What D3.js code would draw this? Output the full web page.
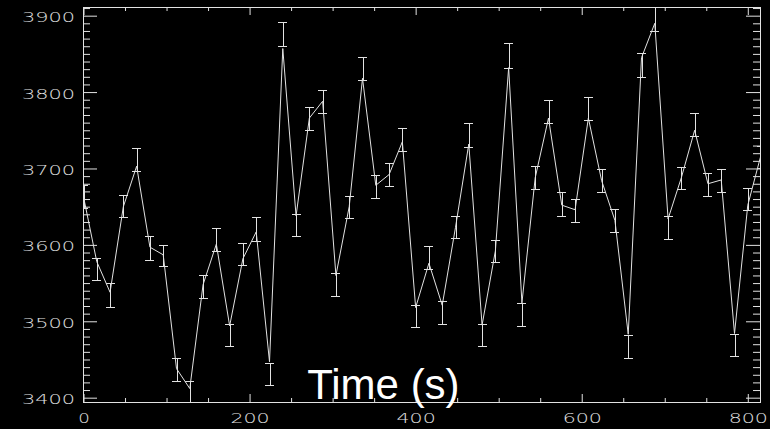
<!DOCTYPE html>
<html>
<head>
<meta charset="utf-8">
<script src="https://cdn.jsdelivr.net/npm/d3@7"></script>
<style>
  html, body { margin: 0; padding: 0; background: #000; }
  svg { display: block; }
</style>
</head>
<body>
<div id="chart"></div>
<script>
// sample times (s) and measured counts, with the low / high ends of each error bar
const times = [0, 16, 32, 48, 64, 80, 96, 112, 128, 144, 160, 176, 192, 208, 224, 240, 256, 272, 288, 304,
  320, 336, 352, 368, 384, 400, 416, 432, 448, 464, 480, 496, 512, 528, 544, 560, 576, 592, 608, 624,
  640, 656, 672, 688, 704, 720, 736, 752, 768, 784, 800, 816];
const counts = [3663, 3578, 3538, 3650, 3703, 3597, 3587, 3438, 3412, 3548, 3601, 3494, 3582, 3617, 3447, 3857, 3638, 3766, 3788, 3560,
  3650, 3818, 3678, 3692, 3735, 3518, 3576, 3521, 3623, 3732, 3495, 3592, 3832, 3524, 3688, 3766, 3652, 3646, 3766, 3684,
  3632, 3483, 3845, 3890, 3634, 3688, 3750, 3680, 3685, 3484, 3652, 3718];
const barLow = [3648, 3554, 3519, 3636, 3697, 3580, 3572, 3422, 3392, 3530, 3592, 3468, 3574, 3605, 3416, 3860, 3612, 3750, 3772, 3533,
  3635, 3816, 3661, 3677, 3723, 3492, 3568, 3497, 3609, 3728, 3467, 3577, 3832, 3494, 3673, 3760, 3638, 3630, 3763, 3669,
  3617, 3452, 3820, 3880, 3608, 3673, 3742, 3664, 3669, 3455, 3646, 3700];
const barHigh = [3678, 3583, 3550, 3665, 3727, 3612, 3600, 3452, 3422, 3560, 3622, 3497, 3603, 3636, 3446, 3892, 3641, 3781, 3803, 3563,
  3664, 3846, 3691, 3707, 3753, 3521, 3598, 3527, 3638, 3759, 3496, 3607, 3864, 3524, 3703, 3790, 3669, 3660, 3793, 3699,
  3647, 3482, 3851, 3911, 3638, 3702, 3772, 3694, 3699, 3484, 3675, 3730];

const xTicks = [0, 200, 400, 600, 800];
const yTicks = [3400, 3500, 3600, 3700, 3800, 3900];
const xTitle = "Time (s)";

const width = 770;
const height = 429;
const ink = "#e2e2e2";

const x = d3.scaleLinear().domain([0, 815.3]).range([83.5, 760.5]);
const y = d3.scaleLinear().domain([3393.7, 3910.7]).range([402.5, 7.5]);

const svg = d3
  .select("#chart")
  .append("svg")
  .attr("width", width)
  .attr("height", height)
  .style("background", "#000");

svg
  .append("clipPath")
  .attr("id", "plot-clip")
  .append("rect")
  .attr("x", x.range()[0])
  .attr("y", y.range()[1])
  .attr("width", x.range()[1] - x.range()[0])
  .attr("height", y.range()[0] - y.range()[1]);

const data = times.map((t, i) => ({ t: t, v: counts[i], lo: barLow[i], hi: barHigh[i] }));

const plot = svg.append("g").attr("clip-path", "url(#plot-clip)");

// connecting line
plot
  .append("path")
  .datum(data)
  .attr("fill", "none")
  .attr("stroke", ink)
  .attr("stroke-width", 1)
  .attr("d", d3.line().x((d) => x(d.t)).y((d) => y(d.v)));

// error bars with caps
const capHalf = 4.5;
const bars = plot.append("g").attr("stroke", ink).attr("stroke-width", 1).attr("shape-rendering", "crispEdges");
bars
  .selectAll("line.bar")
  .data(data)
  .join("line")
  .attr("class", "bar")
  .attr("x1", (d) => Math.round(x(d.t)) + 0.5)
  .attr("x2", (d) => Math.round(x(d.t)) + 0.5)
  .attr("y1", (d) => y(d.lo))
  .attr("y2", (d) => y(d.hi));
["lo", "hi"].forEach((end) => {
  bars
    .selectAll("line.cap-" + end)
    .data(data)
    .join("line")
    .attr("class", "cap-" + end)
    .attr("x1", (d) => x(d.t) - capHalf)
    .attr("x2", (d) => x(d.t) + capHalf)
    .attr("y1", (d) => Math.round(y(d[end])) + 0.5)
    .attr("y2", (d) => Math.round(y(d[end])) + 0.5);
});

// axes: ticks on all four sides pointing inward
const xMinor = d3.range(50, 816, 50).filter((v) => !xTicks.includes(v));
const yMinor = d3.range(3400, 3911, 10).filter((v) => !yTicks.includes(v));
const x0 = x.range()[0], x1 = x.range()[1];
const y0 = y.range()[0], y1 = y.range()[1];

const labelWidth = (s) => 11.6 + 13.8 * (s.length - 1);

function styleAxis(g) {
  g.select(".domain").remove();
  g.selectAll(".tick line").attr("stroke", ink);
  g.selectAll(".tick text")
    .attr("fill", ink)
    .attr("font-family", "'DejaVu Sans', sans-serif")
    .attr("font-weight", 200)
    .attr("font-size", "14px")
    .attr("textLength", function () { return labelWidth(this.textContent); })
    .attr("lengthAdjust", "spacingAndGlyphs");
}

svg.append("g").attr("transform", `translate(0,${y0 - 0.5})`)
  .call(d3.axisBottom(x).tickValues(xTicks).tickSize(-8).tickSizeOuter(0).tickPadding(11.4).tickFormat(d3.format("d")))
  .call(styleAxis);
svg.append("g").attr("transform", `translate(0,${y0 - 0.5})`)
  .call(d3.axisBottom(x).tickValues(xMinor).tickSize(-4).tickSizeOuter(0).tickFormat(""))
  .call(styleAxis);
svg.append("g").attr("transform", `translate(0,${y1 - 0.5})`)
  .call(d3.axisTop(x).tickValues(xTicks).tickSize(-8).tickSizeOuter(0).tickFormat(""))
  .call(styleAxis);
svg.append("g").attr("transform", `translate(0,${y1 - 0.5})`)
  .call(d3.axisTop(x).tickValues(xMinor).tickSize(-4).tickSizeOuter(0).tickFormat(""))
  .call(styleAxis);

const yLeft = svg.append("g").attr("transform", `translate(${x0 - 0.5},0)`)
  .call(d3.axisLeft(y).tickValues(yTicks).tickSize(-14).tickSizeOuter(0).tickPadding(8).tickFormat(d3.format("d")))
  .call(styleAxis);
yLeft.selectAll(".tick text").attr("dy", "0.43em");
svg.append("g").attr("transform", `translate(${x0 - 0.5},0)`)
  .call(d3.axisLeft(y).tickValues(yMinor).tickSize(-7).tickSizeOuter(0).tickFormat(""))
  .call(styleAxis);
svg.append("g").attr("transform", `translate(${x1 - 0.5},0)`)
  .call(d3.axisRight(y).tickValues(yTicks).tickSize(-14).tickSizeOuter(0).tickFormat(""))
  .call(styleAxis);
svg.append("g").attr("transform", `translate(${x1 - 0.5},0)`)
  .call(d3.axisRight(y).tickValues(yMinor).tickSize(-7).tickSizeOuter(0).tickFormat(""))
  .call(styleAxis);

// frame
svg
  .append("rect")
  .attr("x", x0)
  .attr("y", y1)
  .attr("width", x1 - x0)
  .attr("height", y0 - y1)
  .attr("fill", "none")
  .attr("stroke", ink)
  .attr("stroke-width", 1);

// axis title, drawn over the plot as in the original
svg
  .append("text")
  .attr("x", 383.4)
  .attr("y", 399)
  .attr("text-anchor", "middle")
  .attr("fill", "#fff")
  .attr("font-family", "'Liberation Sans', Arial, sans-serif")
  .attr("font-size", "42px")
  .text(xTitle);
</script>
</body>
</html>
